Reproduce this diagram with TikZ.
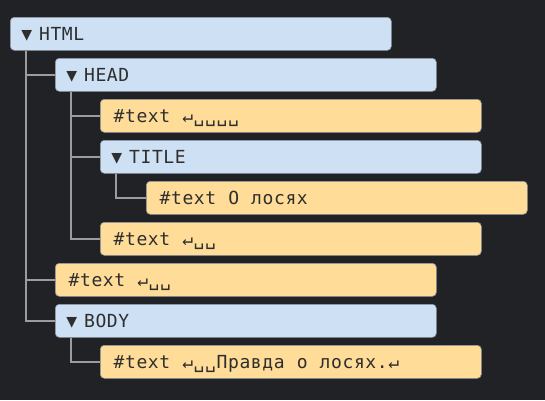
\documentclass[tikz,border=0pt]{standalone}
\usepackage{fontspec}
\newfontfamily\monofnt{DejaVu Sans Mono}
\newcommand\boxfnt{\monofnt\fontsize{18}{22}\selectfont}
\newcommand\mycellw{11.45pt}
\def\mycells#1{\mycellsloop#1\relax}
\def\mycellsloop#1{\ifx\relax#1\else\makebox[\mycellw][c]{#1}\expandafter\mycellsloop\fi}
\newcommand\elemlabel[1]{\makebox[17.5pt][l]{▼}\mycells{#1}}
\newcommand\textlabel[1]{\hspace*{2pt}\mycells{#1}}
\definecolor{bg}{HTML}{212226}
\definecolor{elemfill}{HTML}{CDE0F4}
\definecolor{textfill}{HTML}{FFDC98}
\definecolor{boxedge}{HTML}{8E97A2}
\definecolor{txt}{HTML}{2E2E2E}
\definecolor{connc}{HTML}{9C9C9C}
\begin{document}
\begin{tikzpicture}[x=1pt,y=-1pt,
  box/.style={draw=boxedge, line width=0.6pt, rounded corners=4pt, anchor=north west,
    minimum width=381pt, minimum height=33pt, text width=359pt, inner xsep=11pt,
    inner ysep=0pt, align=left, font=\boxfnt,
    text=txt, text height=13.1pt, text depth=0pt},
  elem/.style={box, fill=elemfill},
  textn/.style={box, fill=textfill},
  conn/.style={draw=connc, line width=1.5pt}]
\fill[bg] (0,0) rectangle (545,400);
\useasboundingbox (0,0) rectangle (545,400);
\node[elem]  (html)  at (10,17)  {\elemlabel{HTML}};
\node[elem]  (head)  at (55,58)  {\elemlabel{HEAD}};
\node[textn] (t1)    at (100,99) {\textlabel{\#text~↵␣␣␣␣}};
\node[elem]  (title) at (100,140) {\elemlabel{TITLE}};
\node[textn] (t2)    at (146,181) {\textlabel{\#text~О~лосях}};
\node[textn] (t3)    at (100,222) {\textlabel{\#text~↵␣␣}};
\node[textn] (t4)    at (55,263) {\textlabel{\#text~↵␣␣}};
\node[elem]  (body)  at (55,304) {\elemlabel{BODY}};
\node[textn] (t5)    at (100,345) {\textlabel{\#text~↵␣␣Правда~о~лосях.↵}};
\draw[conn] ([xshift=16pt]html.south west) |- (head.west);
\draw[conn] ([xshift=16pt]html.south west) |- (t4.west);
\draw[conn] ([xshift=16pt]html.south west) |- (body.west);
\draw[conn] ([xshift=16pt]head.south west) |- (t1.west);
\draw[conn] ([xshift=16pt]head.south west) |- (title.west);
\draw[conn] ([xshift=16pt]head.south west) |- (t3.west);
\draw[conn] ([xshift=16pt]title.south west) |- (t2.west);
\draw[conn] ([xshift=16pt]body.south west) |- (t5.west);
\end{tikzpicture}
\end{document}
